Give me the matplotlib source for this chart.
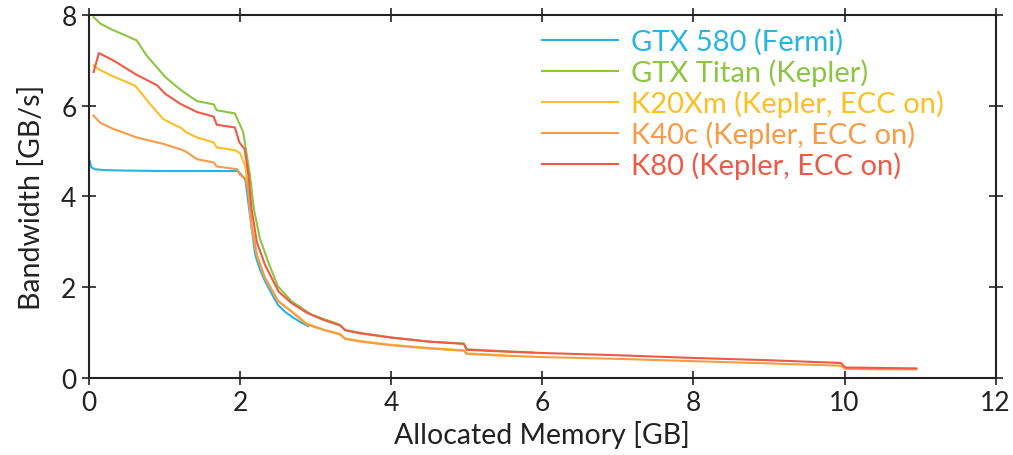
import matplotlib
matplotlib.use("Agg")
import matplotlib.pyplot as plt

plt.rcParams['font.family'] = ['Lato', 'DejaVu Sans']

# Measured bandwidth vs allocated memory (GB, GB/s)
gtx580_x = [0.01, 0.03, 0.08, 0.2, 0.5, 1.0, 1.5, 1.97, 2.02, 2.07, 2.13, 2.2, 2.26, 2.33, 2.42, 2.5, 2.6, 2.7, 2.8, 2.9]
gtx580_y = [4.78, 4.64, 4.60, 4.58, 4.57, 4.56, 4.56, 4.56, 4.47, 4.36, 3.59, 2.71, 2.40, 2.13, 1.85, 1.61, 1.45, 1.33, 1.23, 1.14]

titan_x = [0.06, 0.15, 0.3, 0.63, 0.76, 1.01, 1.16, 1.27, 1.43, 1.65, 1.69, 1.93, 2.04, 2.13, 2.18, 2.26,
           2.37, 2.50, 2.68, 2.95, 3.26, 3.32, 3.39, 3.6, 4.0, 4.5, 4.96, 5.0, 5.5, 5.88]
titan_y = [7.95, 7.81, 7.68, 7.44, 7.11, 6.63, 6.42, 6.28, 6.10, 6.03, 5.90, 5.83, 5.42, 4.47, 3.74, 3.08,
           2.56, 2.02, 1.69, 1.39, 1.21, 1.17, 1.06, 0.99, 0.89, 0.80, 0.76, 0.63, 0.59, 0.56]

k20_x = [0.06, 0.12, 0.3, 0.61, 0.68, 0.8, 0.98, 1.1, 1.21, 1.29, 1.43, 1.65, 1.69, 1.93, 2.0, 2.07, 2.11,
         2.15, 2.22, 2.33, 2.51, 2.68, 2.88, 3.13, 3.32, 3.39, 3.6, 4.0, 4.5, 4.96, 5.0, 5.5]
k20_y = [6.89, 6.81, 6.66, 6.44, 6.30, 6.05, 5.71, 5.60, 5.52, 5.41, 5.30, 5.19, 5.08, 5.02, 4.95, 4.66, 4.10,
         3.37, 2.71, 2.20, 1.68, 1.47, 1.20, 1.05, 0.97, 0.87, 0.81, 0.73, 0.66, 0.61, 0.54, 0.50]

k40_x = [0.06, 0.15, 0.32, 0.63, 0.98, 1.21, 1.29, 1.43, 1.65, 1.69, 1.96, 2.0, 2.07, 2.11, 2.15, 2.22, 2.33,
         2.5, 2.68, 2.88, 3.1, 3.32, 3.39, 3.6, 4.0, 4.5, 4.96, 5.0, 5.5, 6.0, 7.0, 8.0, 9.0, 9.95, 10.01, 10.5, 10.95]
k40_y = [5.78, 5.62, 5.49, 5.30, 5.16, 5.04, 4.98, 4.82, 4.75, 4.66, 4.60, 4.47, 4.40, 4.10, 3.37, 2.71, 2.20,
         1.70, 1.46, 1.18, 1.06, 0.96, 0.86, 0.80, 0.72, 0.65, 0.60, 0.53, 0.49, 0.46, 0.42, 0.37, 0.32, 0.27, 0.20, 0.19, 0.19]

k80_x = [0.06, 0.13, 0.32, 0.61, 0.90, 1.01, 1.21, 1.43, 1.65, 1.69, 1.93, 1.99, 2.06, 2.11, 2.15, 2.22, 2.33,
         2.51, 2.68, 2.88, 3.1, 3.32, 3.39, 3.6, 4.0, 4.5, 4.96, 5.0, 5.5, 6.0, 7.0, 8.0, 9.0, 9.95, 10.01, 10.5, 10.95]
k80_y = [6.74, 7.16, 7.00, 6.70, 6.45, 6.26, 6.04, 5.86, 5.76, 5.58, 5.52, 5.19, 5.04, 4.47, 3.74, 3.00, 2.49,
         1.90, 1.65, 1.44, 1.28, 1.16, 1.05, 0.98, 0.89, 0.80, 0.75, 0.62, 0.58, 0.55, 0.50, 0.44, 0.39, 0.33, 0.23, 0.22, 0.21]

labels = ["GTX 580 (Fermi)", "GTX Titan (Kepler)", "K20Xm (Kepler, ECC on)",
          "K40c (Kepler, ECC on)", "K80 (Kepler, ECC on)"]
colors = ["#27b5e0", "#8cc641", "#fcbf24", "#f79c45", "#ef5a47"]

fig = plt.figure(figsize=(10.13, 4.56), dpi=100)
ax = fig.add_axes([0.0879, 0.169, 0.895, 0.796])

series = [(gtx580_x, gtx580_y), (titan_x, titan_y), (k20_x, k20_y), (k40_x, k40_y), (k80_x, k80_y)]
for (xs, ys), lab, col in zip(series, labels, colors):
    ax.plot(xs, ys, color=col, lw=1.5, label=lab)

ax.set_xlim(0, 12)
ax.set_ylim(0, 8)
ax.set_xticks(range(0, 13, 2))
ax.set_yticks(range(0, 9, 2))
ax.tick_params(direction='inout', length=10, width=1.2, top=True, right=True,
               labelsize=19, colors='#222222', pad=4)
for sp in ax.spines.values():
    sp.set_linewidth(1.5)
    sp.set_color('#222222')

ax.set_xlabel("Allocated Memory [GB]", fontsize=20.5, color='#222222', labelpad=3)
ax.set_ylabel("Bandwidth [GB/s]", fontsize=20.5, color='#222222', labelpad=12)

leg = ax.legend(loc='upper left', frameon=False, fontsize=21, handlelength=2.6,
                handletextpad=0.45, labelspacing=0.12, borderaxespad=0, borderpad=0,
                bbox_to_anchor=(0.50, 0.964))
for txt, col in zip(leg.get_texts(), colors):
    txt.set_color(col)

fig.savefig("out.png", dpi=100)
